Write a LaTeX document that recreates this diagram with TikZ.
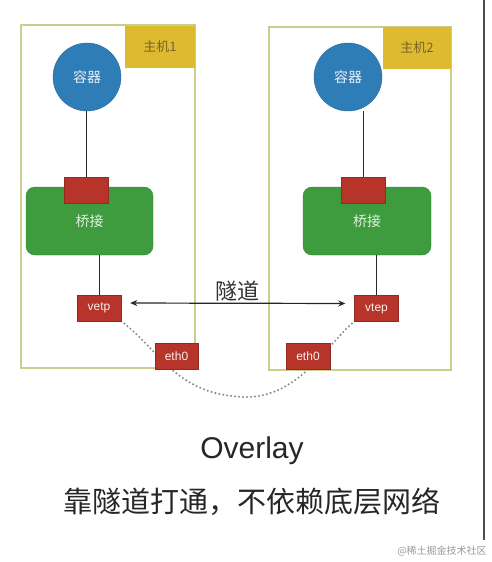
\documentclass[tikz,border=0pt]{standalone}
\usepackage{fontspec}
\setmainfont{Liberation Sans}
\newfontfamily\cjk{Noto Sans CJK SC}
\usepackage{xcolor}
\definecolor{hostline}{RGB}{204,204,140}
\definecolor{tagyellow}{RGB}{222,186,48}
\definecolor{tagtext}{RGB}{120,100,40}
\definecolor{ctrblue}{RGB}{47,125,183}
\definecolor{brgreen}{RGB}{62,155,62}
\definecolor{portred}{RGB}{182,52,42}
\usepackage{tikz}
\usetikzlibrary{
  arrows.meta,
  positioning,
  backgrounds
}

\begin{document}
\begin{tikzpicture}[x=1pt, y=-1pt,
  host/.style={rectangle, draw=hostline, line width=1.2pt, inner sep=0pt},
  tag/.style={rectangle, fill=tagyellow, minimum height=42pt, inner sep=0pt, font=\cjk\fontsize{13}{15}\selectfont, text=tagtext},
  ctr/.style={circle, fill=ctrblue, draw=ctrblue!85!black, minimum size=68pt, inner sep=0pt, font=\cjk\fontsize{14}{16}\selectfont, text=white!88!ctrblue},
  bridge/.style={rectangle, rounded corners=9pt, fill=brgreen, draw=brgreen!85!black, minimum width=127pt, minimum height=68pt, font=\cjk\fontsize{14}{16}\selectfont, text=white!85!brgreen},
  port/.style={rectangle, fill=portred, draw=portred!80!black, minimum width=44pt, minimum height=26pt, inner sep=0pt, font=\fontsize{12}{14}\selectfont, text=white!92!portred},
  link/.style={line width=1pt, black!85},
  arr/.style={{Stealth[length=7pt,width=6pt]}-{Stealth[length=7pt,width=6pt]}, line width=1.2pt, black!85},
  tunnel/.style={line width=2.3pt, black!45, dash pattern=on 0pt off 4pt, line cap=round}
]
  \useasboundingbox (0,0) rectangle (492,562);

  \node[host, minimum width=174pt, minimum height=343pt] (host1) at (108,196.5) {};
  \node[tag, minimum width=70pt] (tag1) at (160,46.5) {主机1};
  \node[ctr] (ctr1) at (87,77) {容器};
  \node[bridge] (br1) at (89.5,221) {桥接};
  \node[port] (port1) at (86,190) {};
  \node[port] (vetp) at (99,308) {vetp};
  \node[port, minimum width=43pt] (eth1) at (176.5,356.5) {eth0};

  \node[host, minimum width=182pt, minimum height=343pt] (host2) at (360,198.5) {};
  \node[tag, minimum width=68pt] (tag2) at (417,47.5) {主机2};
  \node[ctr] (ctr2) at (348,77) {容器};
  \node[bridge, minimum width=128pt] (br2) at (367,221) {桥接};
  \node[port] (port2) at (363.5,190) {};
  \node[port] (vtep) at (376.5,308.5) {vtep};
  \node[port] (eth2) at (308,356.5) {eth0};

  \draw[link] (port1.north |- ctr1.south) -- (port1.north);
  \draw[link] (vetp.north |- br1.south) -- (vetp.north);
  \draw[link] (port2.north |- ctr2.south) -- (port2.north);
  \draw[link] (vtep.north |- br2.south) -- (vtep.north);

  \draw[arr, shorten >=9pt, shorten <=9pt] ([yshift=5pt]vetp.east) -- node[above=-2pt, font=\cjk\fontsize{22}{24}\selectfont, text=black!80]{隧道} ([yshift=5pt]vtep.west);

  \begin{scope}[on background layer]
    \draw[tunnel] (vetp.south east) .. controls (160,350) and (175,395) .. (245,397)
      .. controls (300,398) and (330,340) .. (vtep.south west);
  \end{scope}

  \draw[line width=1.3pt, black!70] (484,0) -- (484,540);

  \node[font=\fontsize{30}{34}\selectfont, text=black!85] (title) at (252,451) {Overlay};
  \node[font=\cjk\fontsize{29}{33}\selectfont, text=black!85] (caption) at (252,502) {靠隧道打通，不依赖底层网络};
  \node[font=\cjk\fontsize{10}{12}\selectfont, text=black!40] (mark) at (442,551) {@稀土掘金技术社区};
\end{tikzpicture}
\end{document}
